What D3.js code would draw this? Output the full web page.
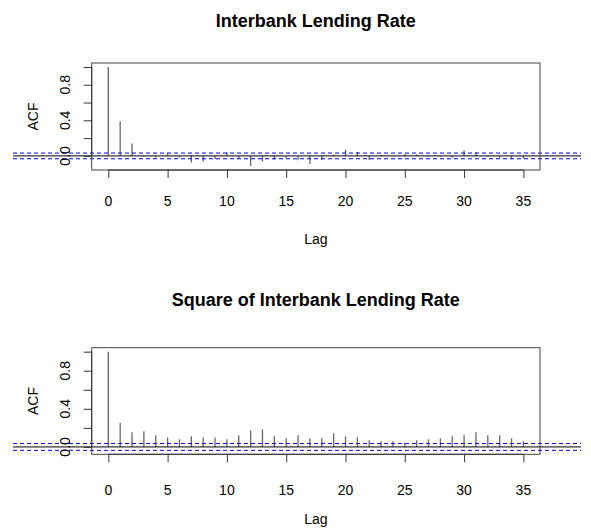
<!DOCTYPE html>
<html>
<head>
<meta charset="utf-8">
<script src="https://cdn.jsdelivr.net/npm/d3@7"></script>
<style>
  body { margin: 0; background: #fff; }
  text { font-family: "Liberation Sans", Arial, sans-serif; }
</style>
</head>
<body>
<div id="root"></div>
<script>
const width = 591
const height = 531

// lags 0..35
const lags = d3.range(0, 36)

const acfRate = [1.0, 0.39, 0.14, -0.01, -0.015, 0.03, -0.02, -0.075, -0.065, -0.035,
  0.04, -0.025, -0.114, -0.065, -0.04, -0.02, -0.05, -0.09, -0.045, 0.015,
  0.07, 0.045, -0.045, 0.01, -0.005, 0.02, 0.015, -0.01, -0.01, -0.02,
  0.06, 0.04, -0.01, -0.02, -0.035, -0.03]

const acfSquare = [1.0, 0.25, 0.153, 0.164, 0.122, 0.10, 0.08, 0.111, 0.10, 0.10,
  0.08, 0.122, 0.174, 0.184, 0.111, 0.09, 0.122, 0.09, 0.09, 0.143,
  0.111, 0.10, 0.07, 0.06, 0.06, 0.04, 0.07, 0.08, 0.09, 0.111,
  0.122, 0.153, 0.122, 0.122, 0.09, 0.06]

const xTicks = [0, 5, 10, 15, 20, 25, 30, 35]
const yTicks = [0, 0.2, 0.4, 0.6, 0.8, 1.0]
const yTickLabels = [0, 0.4, 0.8]

const panels = [
  { title: 'Interbank Lending Rate', acf: acfRate, ci: 0.032,
    top: 63, bottom: 170, titleY: 27, tickY: 206, lagY: 244 },
  { title: 'Square of Interbank Lending Rate', acf: acfSquare, ci: 0.036,
    top: 347.7, bottom: 454.3, titleY: 306, tickY: 495, lagY: 524 },
]

const left = 91.7
const right = 540

const svg = d3.select('#root').append('svg').attr('width', width).attr('height', height)

// R style 4% padding on the data range
function padded(lo, hi) {
  const r = hi - lo
  return [lo - 0.04 * r, hi + 0.04 * r]
}

const x = d3.scaleLinear().domain(padded(0, 35)).range([left, right])

panels.forEach((p) => {
  const lo = Math.min(-p.ci, d3.min(p.acf))
  const hi = Math.max(p.ci, d3.max(p.acf))
  const y = d3.scaleLinear().domain(padded(lo, hi)).range([p.bottom, p.top])
  const g = svg.append('g')

  // spikes
  g.append('g')
    .selectAll('line')
    .data(lags)
    .join('line')
    .attr('x1', (d) => x(d))
    .attr('x2', (d) => x(d))
    .attr('y1', y(0))
    .attr('y2', (d) => y(p.acf[d]))
    .attr('stroke', '#666')
    .attr('stroke-width', 1.3)

  // zero line and confidence bounds (drawn past the box like the original)
  g.append('line')
    .attr('x1', 13).attr('x2', 581)
    .attr('y1', y(0)).attr('y2', y(0))
    .attr('stroke', '#000').attr('stroke-width', 1)

  g.selectAll('line.ci')
    .data([p.ci, -p.ci])
    .join('line')
    .attr('class', 'ci')
    .attr('x1', 13).attr('x2', 581)
    .attr('y1', (d) => y(d)).attr('y2', (d) => y(d))
    .attr('stroke', '#0000ff').attr('stroke-width', 1)
    .attr('stroke-dasharray', '4,3')

  // box
  g.append('rect')
    .attr('x', left).attr('y', p.top)
    .attr('width', right - left).attr('height', p.bottom - p.top)
    .attr('fill', 'none').attr('stroke', '#444').attr('stroke-width', 1)

  // x axis, line only between first and last tick like R
  const xa = g.append('g').attr('transform', `translate(0,${p.bottom})`)
  xa.call(d3.axisBottom(x).tickValues(xTicks).tickSize(8).tickSizeOuter(0).tickFormat(''))
  xa.select('.domain').remove()
  xa.append('line').attr('x1', x(0)).attr('x2', x(35)).attr('stroke', '#333')
  xa.selectAll('.tick line').attr('stroke', '#333')
  g.selectAll('text.xt')
    .data(xTicks)
    .join('text')
    .attr('class', 'xt')
    .attr('x', (d) => x(d))
    .attr('y', p.tickY)
    .attr('text-anchor', 'middle')
    .attr('font-size', 14)
    .text((d) => d)

  // y axis
  const ya = g.append('g').attr('transform', `translate(${left},0)`)
  ya.call(d3.axisLeft(y).tickValues(yTicks).tickSize(8).tickSizeOuter(0).tickFormat(''))
  ya.select('.domain').remove()
  ya.append('line').attr('y1', y(0)).attr('y2', y(1)).attr('stroke', '#333')
  ya.selectAll('.tick line').attr('stroke', '#333')
  g.selectAll('text.yt')
    .data(yTickLabels)
    .join('text')
    .attr('class', 'yt')
    .attr('transform', (d) => `translate(70,${y(d)}) rotate(-90)`)
    .attr('text-anchor', 'middle')
    .attr('font-size', 14)
    .text((d) => d.toFixed(1))

  // labels
  g.append('text')
    .attr('x', (left + right) / 2).attr('y', p.titleY)
    .attr('text-anchor', 'middle')
    .attr('font-size', 18).attr('font-weight', 'bold')
    .text(p.title)

  g.append('text')
    .attr('x', (left + right) / 2).attr('y', p.lagY)
    .attr('text-anchor', 'middle')
    .attr('font-size', 14)
    .text('Lag')

  g.append('text')
    .attr('transform', `translate(38,${(p.top + p.bottom) / 2}) rotate(-90)`)
    .attr('text-anchor', 'middle')
    .attr('font-size', 14)
    .text('ACF')
})
</script>
</body>
</html>
